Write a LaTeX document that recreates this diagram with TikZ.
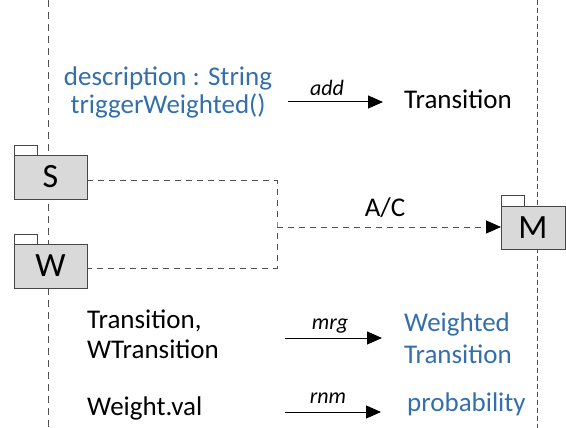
\documentclass[tikz,border=0pt]{standalone}
\usepackage{fontspec}
\setmainfont{Carlito}
\usetikzlibrary{arrows.meta}
\definecolor{attrblue}{RGB}{52,111,171}
\definecolor{pkgfill}{RGB}{217,217,217}
\definecolor{pkgline}{RGB}{70,70,70}
\definecolor{lifeline}{RGB}{80,80,80}
\tikzset{
  lifelinestyle/.style={draw=lifeline, line width=1pt, dash pattern=on 7pt off 5pt},
  rlifelinestyle/.style={draw=lifeline, line width=0.9pt, dash pattern=on 5pt off 3pt},
  pkgbody/.style={draw=pkgline, fill=pkgfill, line width=0.9pt},
  pkgtab/.style={draw=pkgline, fill=white, line width=0.9pt},
  pkglabel/.style={font=\fontsize{34}{36}\selectfont, inner sep=0pt},
  txt/.style={font=\fontsize{27}{30}\selectfont, inner sep=0pt},
  bluetxt/.style={txt, text=attrblue},
  oplabel/.style={font=\fontsize{22}{24}\selectfont\itshape, inner sep=0pt},
  tip/.style={-{Triangle[length=15pt,width=13pt]}},
  opline/.style={draw=black, line width=1pt, tip},
  acline/.style={draw=lifeline, line width=1pt, dash pattern=on 6pt off 5pt},
}
\begin{document}
\begin{tikzpicture}[x=1pt, y=-1pt]
\useasboundingbox (0,0) rectangle (566,428);

% lifelines
\draw[lifelinestyle] (48,0) -- (48,428);
\draw[rlifelinestyle] (537,0) -- (537,428);

% package S
\draw[pkgtab] (14,145) rectangle (37,155);
\draw[pkgbody] (14,155) rectangle (87,199);
\node[pkglabel] (S) at (50.5,177) {S};
\coordinate (Sr) at (87,181);

% package W
\draw[pkgtab] (14,234) rectangle (37,244);
\draw[pkgbody] (14,244) rectangle (87,288);
\node[pkglabel] (W) at (50.5,266) {W};
\coordinate (Wr) at (87,268);

% package M
\draw[pkgtab] (501,195) rectangle (524,206);
\draw[pkgbody] (501,206) rectangle (565,249);
\node[pkglabel] (M) at (533,228) {M};
\coordinate (Ml) at (501,227);

% A/C composition connector
\coordinate (join) at (277,227);
\draw[acline] (Sr) -| (join) |- (Wr);
\draw[acline] (join) -- ([xshift=-14pt]Ml);
\draw[draw=black, line width=1pt, tip] ([xshift=-15pt]Ml) -- (Ml);
\node[txt] (ac) at (385,208) {A/C};

% add operation
\node[bluetxt, align=center, font=\fontsize{27}{28}\selectfont] (desc) at (168,92)
  {description : String\\triggerWeighted()};
\coordinate (addA) at (288,102);
\coordinate (addB) at (383,102);
\draw[opline] (addA) -- (addB);
\node[oplabel] (add) at (327,88) {add};
\node[txt, anchor=base west] (tr) at (404,109) {Transition};

% mrg operation
\node[txt, anchor=base west] (trw) at (87,328) {Transition,};
\node[txt, anchor=base west] (wtr) at (87,358) {WTransition};
\coordinate (mrgA) at (285,338);
\coordinate (mrgB) at (382,338);
\draw[opline] (mrgA) -- (mrgB);
\node[oplabel] (mrg) at (330,326) {mrg};
\node[bluetxt, anchor=base west] (wt1) at (404,331) {Weighted};
\node[bluetxt, anchor=base west] (wt2) at (404,363) {Transition};

% rnm operation
\node[txt, anchor=base west] (wv) at (87,415) {Weight.val};
\coordinate (rnmA) at (285,412);
\coordinate (rnmB) at (381,412);
\draw[opline] (rnmA) -- (rnmB);
\node[oplabel] (rnm) at (328,398) {rnm};
\node[bluetxt, anchor=base west] (prob) at (407,411) {probability};
\end{tikzpicture}
\end{document}
